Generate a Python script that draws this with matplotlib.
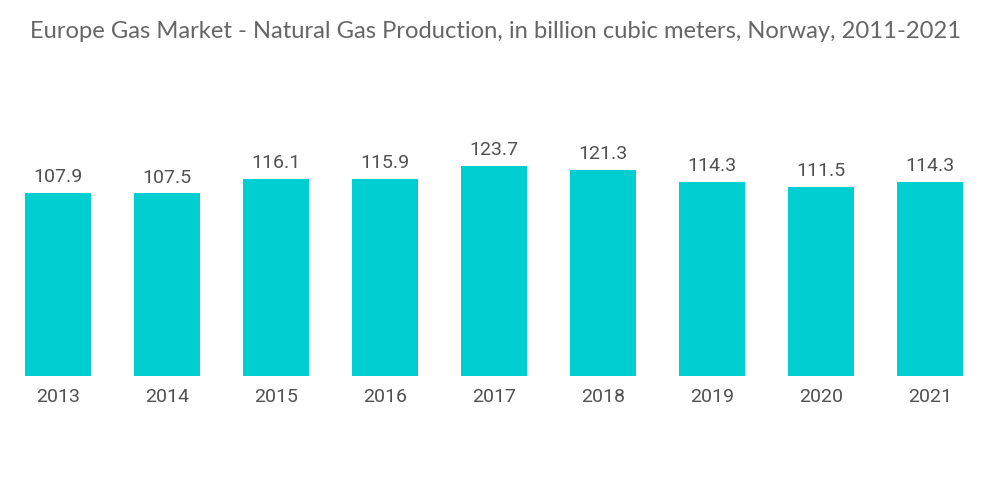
import matplotlib
matplotlib.use("Agg")
import matplotlib.pyplot as plt

years = ["2013", "2014", "2015", "2016", "2017", "2018", "2019", "2020", "2021"]
values = [107.9, 107.5, 116.1, 115.9, 123.7, 121.3, 114.3, 111.5, 114.3]
labels = ["107.9", "107.5", "116.1", "115.9", "123.7", "121.3", "114.3", "111.5", "114.3"]
title = "Europe Gas Market - Natural Gas Production, in billion cubic meters, Norway, 2011-2021"

fig = plt.figure(figsize=(10, 5.04), dpi=100)
ax = fig.add_axes([0.0035, 0.254, 0.981, 0.548])
x = range(len(years))
bars = ax.bar(x, values, width=0.6, color="#00CED1")
ax.set_xlim(-0.5, len(years) - 0.5)
ax.set_ylim(0, 162.7)
for xi, v, lab in zip(x, values, labels):
    ax.annotate(lab, (xi, v), xytext=(0, 5), textcoords="offset points",
                ha="center", va="bottom", fontsize=14, color="#505050", family="Roboto")
ax.set_xticks(list(x))
ax.set_xticklabels(years, fontsize=14, color="#505050", family="Roboto")
ax.tick_params(axis="x", length=0, pad=8.5)
ax.set_yticks([])
for s in ax.spines.values():
    s.set_visible(False)
fig.text(0.03, 0.938, title, fontsize=17.1, color="#666666", family="Lato", ha="left", va="center")
fig.savefig("out.png", dpi=100)
